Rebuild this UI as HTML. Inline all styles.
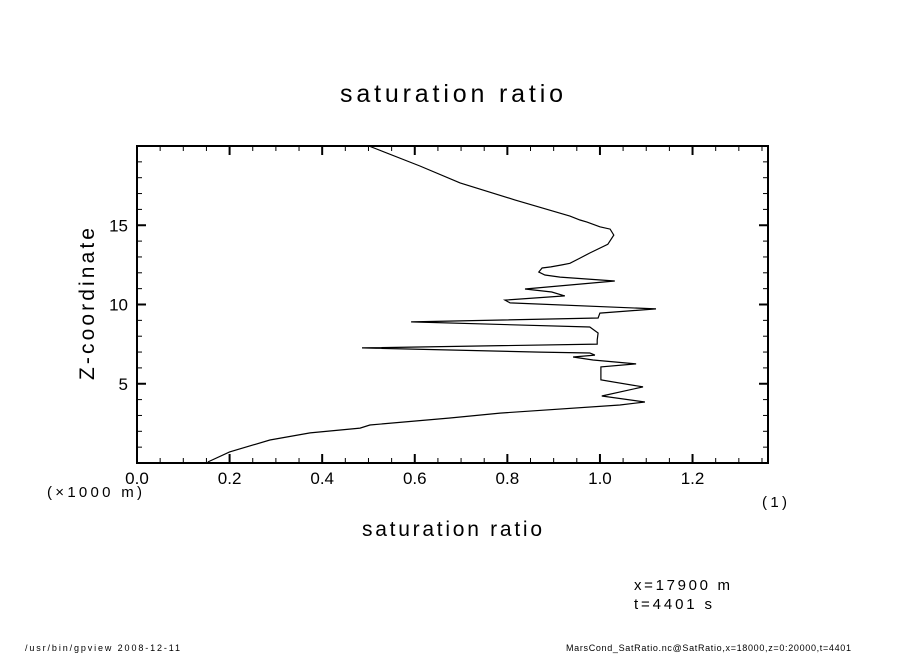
<!DOCTYPE html>
<html><head><meta charset="utf-8"><style>
body{margin:0;background:#fff;}
svg text{font-family:"Liberation Sans",sans-serif;fill:#000;}
</style></head><body>
<svg id="chart" width="904" height="654" viewBox="0 0 904 654" xmlns="http://www.w3.org/2000/svg">
<rect width="904" height="654" fill="#fff"/>
<text x="340" y="102" font-size="25" textLength="223" lengthAdjust="spacing">saturation ratio</text>
<text x="362" y="536" font-size="21" textLength="180" lengthAdjust="spacing">saturation ratio</text>
<text transform="translate(94,380) rotate(-90)" font-size="21" textLength="152" lengthAdjust="spacing">Z-coordinate</text>
<text x="47" y="497" font-size="15" textLength="95" lengthAdjust="spacing">(×1000 m)</text>
<text x="762" y="507" font-size="15" textLength="25" lengthAdjust="spacing">(1)</text>
<text x="634" y="590" font-size="15" textLength="96" lengthAdjust="spacing">x=17900 m</text>
<text x="634" y="609" font-size="15" textLength="78" lengthAdjust="spacing">t=4401 s</text>
<text x="25" y="651" font-size="9" textLength="155" lengthAdjust="spacing">/usr/bin/gpview   2008-12-11</text>
<text x="566" y="651" font-size="9" textLength="285" lengthAdjust="spacing">MarsCond_SatRatio.nc@SatRatio,x=18000,z=0:20000,t=4401</text>
<g id="axes"></g>
<path id="line" fill="none" stroke="#000" stroke-width="1.2"/>
</svg>
<script>
const xTicks=[0.0,0.2,0.4,0.6,0.8,1.0,1.2];
const xTickLabels=["0.0","0.2","0.4","0.6","0.8","1.0","1.2"];
const yTicks=[5,10,15];
const yTickLabels=["5","10","15"];
const satRatio=[0.153,0.2,0.287,0.374,0.482,0.503,0.676,0.784,1.043,1.097,1.004,1.093,1.002,1.002,1.078,0.985,0.942,0.989,0.978,0.870,0.486,0.994,0.994,0.996,0.978,0.592,0.996,1.0,1.121,0.806,0.795,0.924,0.896,0.838,1.032,0.914,0.881,0.868,0.875,0.894,0.918,0.935,0.957,0.978,1.017,1.030,1.022,1.0,0.972,0.957,0.935,0.816,0.698,0.611,0.501];
const zCoord=[0.06,0.7,1.45,1.9,2.2,2.4,2.84,3.15,3.66,3.85,4.23,4.8,5.24,6.06,6.25,6.5,6.69,6.81,6.94,7.0,7.26,7.5,7.76,8.2,8.58,8.9,9.15,9.46,9.72,10.1,10.28,10.54,10.79,10.98,11.48,11.73,11.86,12.05,12.3,12.37,12.5,12.6,12.93,13.25,13.8,14.38,14.76,14.9,15.2,15.33,15.58,16.6,17.67,18.74,20.0];
const X0=137,X1=768,Y0=463,Y1=146,xMax=1.363,zMax=20;
const sx=v=>X0+(X1-X0)*v/xMax;
const sy=z=>Y0-(Y0-Y1)*z/zMax;
const NS="http://www.w3.org/2000/svg";
const g=document.getElementById('axes');
function ln(x1,y1,x2,y2,w,name){const l=document.createElementNS(NS,'line');
l.setAttribute('x1',x1);l.setAttribute('y1',y1);l.setAttribute('x2',x2);l.setAttribute('y2',y2);
l.setAttribute('stroke','#000');l.setAttribute('stroke-width',w);


g.appendChild(l);}
const fr=document.createElementNS(NS,'rect');
fr.setAttribute('x',X0);fr.setAttribute('y',Y1);fr.setAttribute('width',X1-X0);fr.setAttribute('height',Y0-Y1);
fr.setAttribute('fill','none');fr.setAttribute('stroke','#000');fr.setAttribute('stroke-width','2');


g.appendChild(fr);
for(let v=0.05;v<xMax;v+=0.05){const x=sx(v);const major=Math.abs(v/0.2-Math.round(v/0.2))<1e-6;const L=major?9:5;
ln(x,Y0,x,Y0-L,major?2:1,'x-tick');ln(x,Y1,x,Y1+L,major?2:1,'x-tick-top');}
for(let z=1;z<zMax;z++){const y=sy(z);const major=z%5===0;const L=major?9:5;
ln(X0,y,X0+L,y,major?2:1,'y-tick');ln(X1,y,X1-L,y,major?2:1,'y-tick-right');}
xTicks.forEach((v,i)=>{const t=document.createElementNS(NS,'text');t.setAttribute('x',sx(v));t.setAttribute('y',Y0+21);
t.setAttribute('font-size','17');t.setAttribute('text-anchor','middle');t.textContent=xTickLabels[i];


g.appendChild(t);});
yTicks.forEach((z,i)=>{const t=document.createElementNS(NS,'text');t.setAttribute('x',X0-9);t.setAttribute('y',sy(z)+6);
t.setAttribute('font-size','17');t.setAttribute('text-anchor','end');t.textContent=yTickLabels[i];


g.appendChild(t);});
document.getElementById('line').setAttribute('d',satRatio.map((v,i)=>(i?'L':'M')+sx(v).toFixed(1)+','+sy(zCoord[i]).toFixed(1)).join(' '));
</script>
</body></html>
